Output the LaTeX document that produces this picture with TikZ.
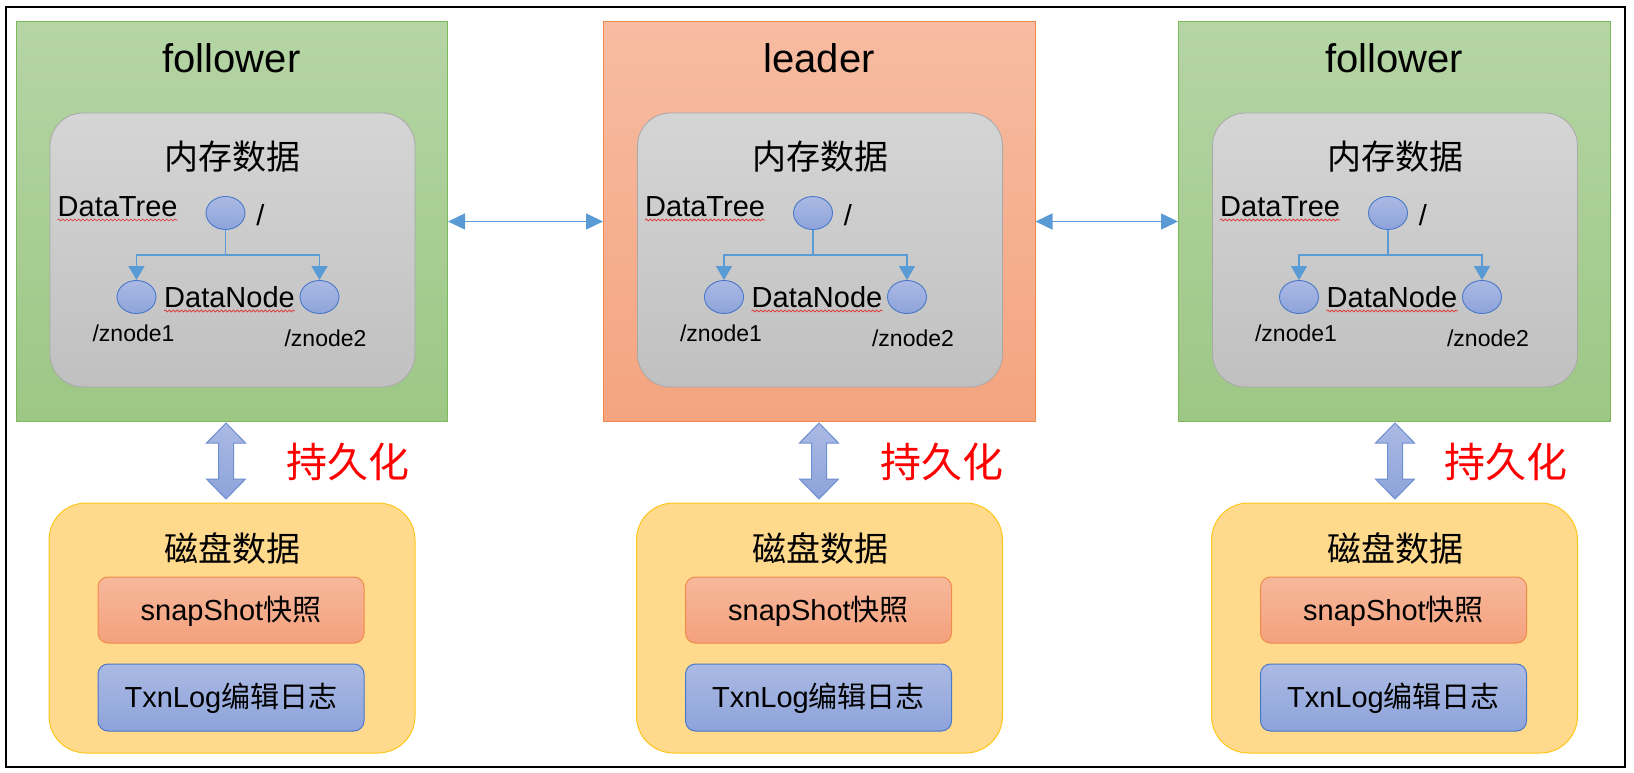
\documentclass[tikz,border=0pt]{standalone}
\usepackage{fontspec}
\setmainfont{Liberation Sans}
\newfontfamily\cjk{Noto Sans CJK SC}
\usetikzlibrary{shapes.geometric,arrows.meta,decorations.pathmorphing}
\definecolor{grnT}{HTML}{B5D5A5}
\definecolor{grnB}{HTML}{9DC785}
\definecolor{grnD}{HTML}{7DB85A}
\definecolor{orgT}{HTML}{F7BCA2}
\definecolor{orgB}{HTML}{F4A47F}
\definecolor{orgD}{HTML}{F08A4B}
\definecolor{gryT}{HTML}{D5D5D5}
\definecolor{gryB}{HTML}{C0C0C0}
\definecolor{gryD}{HTML}{A8A8A8}
\definecolor{bluT}{HTML}{ABBAE4}
\definecolor{bluB}{HTML}{8DA3DA}
\definecolor{bluD}{HTML}{4A78C8}
\definecolor{arrD}{HTML}{6E8FD2}
\definecolor{lnk}{HTML}{5B9BD5}
\definecolor{ylw}{HTML}{FFD98C}
\definecolor{ylwD}{HTML}{FFC61A}
\definecolor{snT}{HTML}{F6B89B}
\definecolor{snB}{HTML}{F4A17D}
\definecolor{persist}{HTML}{FF0000}
\definecolor{wave}{HTML}{E03030}
\newlength\snapw
\newlength\logw
\tikzset{
 follbox/.style={draw=grnD, line width=1pt, top color=grnT, bottom color=grnB, inner sep=0, minimum width=431.5pt, minimum height=399pt},
 leadbox/.style={draw=orgD, line width=1pt, top color=orgT, bottom color=orgB, inner sep=0, minimum width=431.5pt, minimum height=399pt},
 membox/.style={draw=gryD, line width=0.8pt, top color=gryT, bottom color=gryB, rounded corners=33pt, minimum width=365pt, minimum height=274pt, inner sep=0},
 diskbox/.style={draw=ylwD, line width=1pt, fill=ylw, rounded corners=37pt, minimum width=366pt, minimum height=250pt, inner sep=0},
 snapbox/.style={draw=orgD, line width=1pt, top color=snT, bottom color=snB, rounded corners=10pt, minimum width=266pt, minimum height=66pt, inner sep=0},
 logbox/.style={draw=bluD, line width=1pt, top color=bluT, bottom color=bluB, rounded corners=10pt, minimum width=266pt, minimum height=67pt, inner sep=0},
 tnode/.style={ellipse, draw=bluD, line width=0.9pt, top color=bluT, bottom color=bluB, minimum width=39pt, minimum height=33pt, inner sep=0},
 ttl/.style={font=\fontsize{40}{48}\selectfont, inner sep=0},
 cjkhead/.style={font=\cjk\fontsize{34}{40}\selectfont, inner sep=0},
 lbl/.style={font=\fontsize{29}{33}\selectfont, inner sep=0},
 smalllbl/.style={font=\fontsize{23}{27}\selectfont, inner sep=0},
 persistlbl/.style={font=\cjk\fontsize{41}{48}\selectfont, text=persist, inner sep=0},
 tline/.style={draw=lnk, line width=1.4pt},
 tarrow/.style={draw=lnk, line width=1.4pt, -{Triangle[length=14pt,width=16pt]}},
 harrow/.style={draw=lnk, line width=1.5pt, {Triangle[length=17pt,width=16pt]}-{Triangle[length=17pt,width=16pt]}},
 dblar/.style={draw=arrD, line width=1pt, top color=bluT, bottom color=bluB},
 wavy/.style={draw=wave, line width=0.7pt, decorate, decoration={snake, amplitude=1pt, segment length=4pt}},
}
\newcommand\zkcol[6]{%
 \node[#3] (box#1) at ({#2-0.75},221.5) {};
 \node[ttl] (ttl#1) at ({#2-1},58) {#4};
 \node[membox] (mem#1) at (#2,250) {};
 \node[cjkhead] (memt#1) at (#2,157) {内存数据};
 \node[lbl, anchor=base west] (dt#1) at ({#2-175},216) {DataTree};
 \draw[wavy] ([yshift=-4pt]dt#1.base west) -- ([yshift=-4pt]dt#1.base east);
 \node[tnode] (rt#1) at ({#2-7},213) {};
 \node[lbl] (sl#1) at ({#2+28},215) {/};
 \coordinate (fk#1) at ({#2-7},255);
 \node[tnode] (ca#1) at ({#2-96},297) {};
 \node[tnode] (cb#1) at ({#2+87},297) {};
 \node[lbl, anchor=base] (dn#1) at ({#2-3},307) {DataNode};
 \draw[wavy] ([yshift=-4pt]dn#1.base west) -- ([yshift=-4pt]dn#1.base east);
 \node[smalllbl] (za#1) at ({#2-99},333) {/znode1};
 \node[smalllbl] (zb#1) at ({#2+93},338) {/znode2};
 \draw[tline] (rt#1.south) -- (fk#1);
 \draw[tarrow] (fk#1) -| (ca#1.north);
 \draw[tarrow] (fk#1) -| (cb#1.north);
 \node[diskbox] (disk#1) at ({#2-0.5},628) {};
 \node[cjkhead] (diskt#1) at (#2,548) {磁盘数据};
 \node[snapbox] (snap#1) at ({#2-1.5},610) {};
 \node[lbl, anchor=base] (snapt#1) at ({#2-1.5},620) {snapShot{\cjk 快照}};
 \draw[wavy] ([yshift=-4pt]snapt#1.base west) -- ([yshift=-4pt,xshift=\snapw]snapt#1.base west);
 \node[logbox] (log#1) at ({#2-1.5},697.5) {};
 \node[lbl, anchor=base] (logt#1) at ({#2-1.5},707) {TxnLog{\cjk 编辑日志}};
 \draw[wavy] ([yshift=-4pt]logt#1.base west) -- ([yshift=-4pt,xshift=\logw]logt#1.base west);
 \coordinate (pa#1) at (#5,423);
 \draw[dblar] (pa#1) -- ++(19.5,20) -- ++(-12,0) -- ++(0,36) -- ++(12,0) -- ++(-19.5,20) -- ++(-19.5,-20) -- ++(12,0) -- ++(0,-36) -- ++(-12,0) -- cycle;
 \node[persistlbl] (pst#1) at (#6,462) {持久化};
}
\begin{document}
\begin{tikzpicture}[x=1pt,y=-1pt]
\settowidth\snapw{\fontsize{29}{33}\selectfont snapShot}
\settowidth\logw{\fontsize{29}{33}\selectfont TxnLog}
\useasboundingbox (0,0) rectangle (1634,773);
\draw[line width=2pt] (6,7) rectangle (1625,767);
\zkcol{a}{232.5}{follbox}{follower}{226}{348}
\zkcol{b}{820}{leadbox}{leader}{819}{942}
\zkcol{c}{1395}{follbox}{follower}{1395}{1506}
\draw[harrow] (boxa.east) -- (boxb.west);
\draw[harrow] (boxb.east) -- (boxc.west);
\end{tikzpicture}
\end{document}
